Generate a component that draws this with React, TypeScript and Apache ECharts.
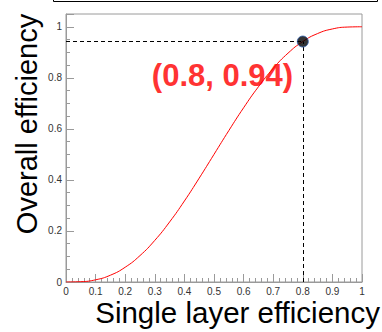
import React, { useEffect, useRef } from "react";
import * as echarts from "echarts";

// single-layer efficiency (x) and overall efficiency (y)
const singleEff = [0, 0.05, 0.1, 0.15, 0.2, 0.25, 0.3, 0.35, 0.4, 0.45, 0.5, 0.55, 0.6, 0.65, 0.7, 0.75, 0.8, 0.85, 0.9, 0.95, 1.0];
const overallEff = [0, 0.0012, 0.0086, 0.0266, 0.0579, 0.1035, 0.1631, 0.2352, 0.3174, 0.4069, 0.5, 0.5931, 0.6826, 0.7648, 0.8369, 0.8965, 0.9421, 0.9734, 0.9914, 0.9988, 1.0];
const highlight = [0.8, 0.942];
const annotation = "(0.8, 0.94)";
const xTitle = "Single layer efficiency";
const yTitle = "Overall efficiency";

const FONT = "'Liberation Sans', Arial, Helvetica, sans-serif";

export default function App() {
  const ref = useRef<HTMLDivElement>(null);
  useEffect(() => {
    if (!ref.current) return;
    const chart = echarts.init(ref.current, undefined, { renderer: "svg" });
    const frame = "#9a9a9a";
    const labelStyle = { color: "#333", fontSize: 10, fontFamily: FONT };
    chart.setOption({
      animation: false,
      backgroundColor: "#fff",
      grid: { left: 66, right: 20, top: 14, bottom: 50, show: true, borderColor: frame, borderWidth: 1, backgroundColor: "transparent" },
      xAxis: {
        type: "value",
        min: 0,
        max: 1,
        interval: 0.1,
        axisLine: { show: true, lineStyle: { color: frame } },
        axisTick: { show: true, inside: true, length: 8, lineStyle: { color: frame } },
        minorTick: { show: true, splitNumber: 5, length: 4, lineStyle: { color: frame } },
        splitLine: { show: false },
        axisLabel: { ...labelStyle, margin: 4, formatter: (v: number) => String(+v.toFixed(2)) },
      },
      yAxis: {
        type: "value",
        min: 0,
        max: 1.05,
        interval: 0.2,
        axisLine: { show: true, lineStyle: { color: frame } },
        axisTick: { show: true, inside: true, length: 8, lineStyle: { color: frame } },
        minorTick: { show: true, splitNumber: 4, length: 4, lineStyle: { color: frame } },
        splitLine: { show: false },
        axisLabel: { ...labelStyle, margin: 4, showMaxLabel: false, formatter: (v: number) => (v > 1.001 ? "" : String(+v.toFixed(2))) },
      },
      series: [
        {
          type: "line",
          data: singleEff.map((x, i) => [x, overallEff[i]]),
          smooth: true,
          showSymbol: false,
          lineStyle: { color: "#ff0000", width: 1 },
          markLine: {
            silent: true,
            symbol: "none",
            label: { show: false },
            lineStyle: { color: "#000", type: [4, 3], width: 1 },
            data: [
              [{ coord: [0, highlight[1]] }, { coord: highlight }],
              [{ coord: [highlight[0], 0] }, { coord: highlight }],
            ],
          },
        },
        {
          type: "scatter",
          data: [highlight],
          symbol: "circle",
          symbolSize: 11,
          itemStyle: { color: "#000", borderColor: "#2a5aa8", borderWidth: 1 },
          z: 5,
        },
      ],
      graphic: [
        { type: "rect", shape: { x: 53.5, y: -10, width: 324, height: 11.5 }, style: { fill: "none", stroke: "#000", lineWidth: 1 } },
        {
          type: "text",
          x: 222.5,
          y: 75,
          style: { text: annotation, fill: "#ff3333", font: `bold 31px ${FONT}`, align: "center", verticalAlign: "middle" },
        },
        {
          type: "text",
          x: 380,
          y: 312,
          style: { text: xTitle, fill: "#000", font: `29.5px ${FONT}`, align: "right", verticalAlign: "middle" },
        },
        {
          type: "text",
          x: 27,
          y: 124,
          rotation: Math.PI / 2,
          style: { text: yTitle, fill: "#000", font: `29px ${FONT}`, align: "center", verticalAlign: "middle" },
        },
      ],
    });
    return () => chart.dispose();
  }, []);
  return <div ref={ref} style={{ width: 382, height: 332, position: "absolute", left: 0, top: 0 }} />;
}
